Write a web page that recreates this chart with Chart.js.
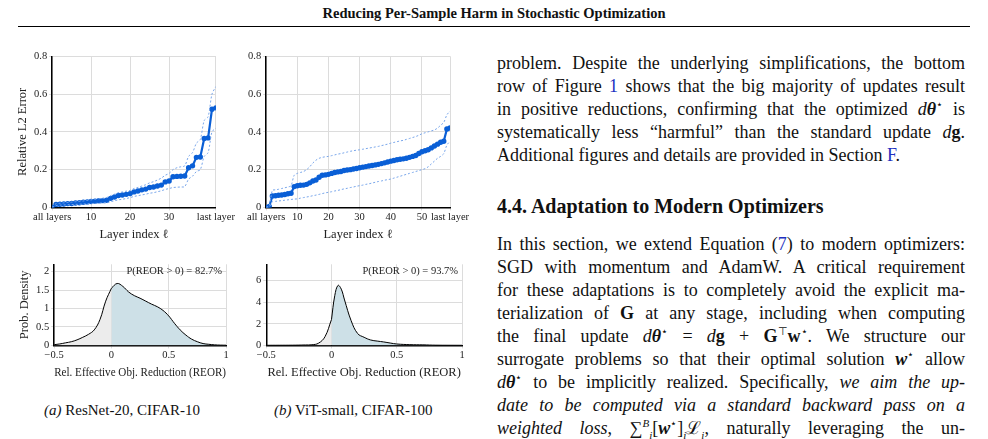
<!DOCTYPE html>
<html>
<head>
<meta charset="utf-8">
<script src="https://cdn.jsdelivr.net/npm/chart.js@4/dist/chart.umd.min.js"></script>
<style>
  body { margin: 0; width: 988px; height: 439px; background: #fff; font-family: "Liberation Serif", "DejaVu Serif", serif; color: #111; overflow: hidden; position: relative; }
  .title { position: absolute; left: 0; top: 5px; width: 988px; text-align: center; font-weight: bold; font-size: 14.5px; }
  .rule { position: absolute; left: 18px; top: 26px; width: 952px; border-top: 1px solid #000; }
  .box { position: absolute; }
  .cap { position: absolute; font-size: 15px; }
  .ln { position: absolute; left: 497px; width: 468px; height: 20px; line-height: 20px; font-family: "Liberation Serif", serif; font-size: 18px; text-align: justify; text-align-last: justify; white-space: nowrap; }
  .ln sup, .ln sub { font-size: 11px; line-height: 0; }
  .last { text-align-last: left; }
  .ref { color: #2030c0; }
</style>
</head>
<body>
<div class="title">Reducing Per-Sample Harm in Stochastic Optimization</div>
<div class="rule"></div>

<div class="box" style="left:0;top:48px;width:236px;height:196px"><canvas id="c1"></canvas></div>
<div class="box" style="left:246px;top:48px;width:234px;height:196px"><canvas id="c2"></canvas></div>
<div class="box" style="left:0;top:256px;width:240px;height:126px"><canvas id="c3"></canvas></div>
<div class="box" style="left:246px;top:256px;width:230px;height:126px"><canvas id="c4"></canvas></div>

<div class="cap" style="left:44px;top:402px"><i>(a)</i> ResNet-20, CIFAR-10</div>
<div class="cap" style="left:274px;top:402px"><i>(b)</i> ViT-small, CIFAR-100</div>

<div class="ln" style="top:53px">problem. Despite the underlying simplifications, the bottom</div>
<div class="ln" style="top:76px">row of Figure <span class="ref">1</span> shows that the big majority of updates result</div>
<div class="ln" style="top:99px">in positive reductions, confirming that the optimized <i>d</i><b><i>θ</i></b><sup>⋆</sup> is</div>
<div class="ln" style="top:122px">systematically less “harmful” than the standard update <i>d</i><b>g</b>.</div>
<div class="ln last" style="top:145px">Additional figures and details are provided in Section <span class="ref">F</span>.</div>
<div class="ln last" style="top:196px;font-weight:bold;font-size:20px">4.4. Adaptation to Modern Optimizers</div>
<div class="ln" style="top:234px">In this section, we extend Equation (<span class="ref">7</span>) to modern optimizers:</div>
<div class="ln" style="top:257px">SGD with momentum and AdamW. A critical requirement</div>
<div class="ln" style="top:280px">for these adaptations is to completely avoid the explicit ma-</div>
<div class="ln" style="top:303px">terialization of <b>G</b> at any stage, including when computing</div>
<div class="ln" style="top:326px">the final update <i>d</i><b><i>θ</i></b><sup>⋆</sup> = <i>d</i><b>g</b> + <b>G</b><sup>⊤</sup><b>w</b><sup>⋆</sup>. We structure our</div>
<div class="ln" style="top:349px">surrogate problems so that their optimal solution <b><i>w</i></b><sup>⋆</sup> allow</div>
<div class="ln" style="top:372px"><i>d</i><b><i>θ</i></b><sup>⋆</sup> to be implicitly realized. Specifically, <i>we aim the up-</i></div>
<div class="ln" style="top:395px"><i>date to be computed via a standard backward pass on a</i></div>
<div class="ln" style="top:418px"><i>weighted loss</i>, ∑<sup><i>B</i></sup><sub><i>i</i></sub>[<b><i>w</i></b><sup>⋆</sup>]<sub><i>i</i></sub>ℒ<sub><i>i</i></sub>, naturally leveraging the un-</div>

<script>
// ResNet-20: relative L2 error per layer index (0 = all layers, 42 = last layer)
const resMean = [0, 0.015, 0.017, 0.018, 0.02, 0.021, 0.023, 0.025, 0.027, 0.029, 0.031,
  0.033, 0.035, 0.036, 0.038, 0.048, 0.055, 0.063, 0.066, 0.069, 0.073, 0.082, 0.087,
  0.093, 0.097, 0.105, 0.108, 0.113, 0.118, 0.135, 0.14, 0.162, 0.164, 0.165, 0.166,
  0.21, 0.22, 0.265, 0.267, 0.365, 0.368, 0.52, 0.527];
const resUpper = [0, 0.02, 0.022, 0.024, 0.026, 0.028, 0.03, 0.032, 0.034, 0.037, 0.04,
  0.043, 0.046, 0.049, 0.052, 0.062, 0.07, 0.078, 0.082, 0.086, 0.09, 0.1, 0.106,
  0.113, 0.12, 0.13, 0.136, 0.145, 0.155, 0.17, 0.18, 0.2, 0.21, 0.215, 0.22,
  0.27, 0.29, 0.34, 0.36, 0.46, 0.48, 0.6, 0.64];
const resLower = [0, 0.01, 0.012, 0.013, 0.014, 0.015, 0.016, 0.017, 0.018, 0.019, 0.02,
  0.021, 0.022, 0.023, 0.024, 0.03, 0.035, 0.04, 0.043, 0.047, 0.052, 0.058, 0.062,
  0.066, 0.07, 0.075, 0.078, 0.083, 0.088, 0.095, 0.1, 0.105, 0.107, 0.108, 0.11,
  0.15, 0.165, 0.19, 0.2, 0.27, 0.29, 0.4, 0.42];

// ViT-small: relative L2 error per layer index (0 = all layers, 59 = last layer)
const vitMean = [0, 0.005, 0.06, 0.062, 0.064, 0.066, 0.068, 0.072, 0.075, 0.11,
  0.115, 0.117, 0.118, 0.122, 0.13, 0.14, 0.145, 0.16, 0.17, 0.172, 0.175, 0.18,
  0.185, 0.188, 0.19, 0.195, 0.198, 0.2, 0.203, 0.206, 0.21, 0.213, 0.216, 0.219,
  0.222, 0.225, 0.228, 0.232, 0.236, 0.24, 0.245, 0.248, 0.252, 0.255, 0.257, 0.26,
  0.265, 0.27, 0.275, 0.285, 0.295, 0.3, 0.305, 0.315, 0.325, 0.335, 0.345, 0.35,
  0.415, 0.42];
const vitUpper = [0, 0.01, 0.09, 0.093, 0.096, 0.1, 0.104, 0.108, 0.115, 0.17,
  0.18, 0.185, 0.19, 0.2, 0.215, 0.235, 0.25, 0.26, 0.265, 0.268, 0.27, 0.274,
  0.278, 0.282, 0.285, 0.289, 0.293, 0.297, 0.3, 0.303, 0.305, 0.308, 0.311, 0.314,
  0.317, 0.32, 0.323, 0.327, 0.331, 0.335, 0.34, 0.344, 0.348, 0.352, 0.355, 0.36,
  0.365, 0.37, 0.375, 0.382, 0.39, 0.395, 0.4, 0.405, 0.41, 0.42, 0.435, 0.45,
  0.49, 0.51];
const vitLower = [0, 0.002, 0.03, 0.032, 0.034, 0.036, 0.038, 0.04, 0.042, 0.044,
  0.045, 0.049, 0.052, 0.055, 0.058, 0.062, 0.065, 0.069, 0.073, 0.077, 0.08, 0.083,
  0.087, 0.09, 0.094, 0.098, 0.101, 0.105, 0.108, 0.112, 0.115, 0.118, 0.122, 0.125,
  0.129, 0.133, 0.137, 0.14, 0.144, 0.147, 0.15, 0.155, 0.16, 0.165, 0.17, 0.175,
  0.18, 0.185, 0.19, 0.195, 0.2, 0.205, 0.215, 0.23, 0.245, 0.26, 0.27, 0.285,
  0.33, 0.35];

// REOR densities
const resRx = [-0.5, -0.45, -0.4, -0.35, -0.3, -0.25, -0.2, -0.15, -0.1, -0.05, 0];
const resRy = [0.02, 0.04, 0.07, 0.1, 0.15, 0.22, 0.3, 0.42, 0.7, 1.2, 1.55];
const resPx = [0, 0.05, 0.1, 0.15, 0.2, 0.25, 0.3, 0.35, 0.4, 0.45, 0.5, 0.55, 0.6,
  0.65, 0.7, 0.75, 0.8, 0.85, 0.9, 0.95, 1];
const resPy = [1.55, 1.68, 1.6, 1.45, 1.35, 1.28, 1.2, 1.12, 1.05, 0.95, 0.8, 0.6, 0.42,
  0.28, 0.17, 0.1, 0.05, 0.03, 0.015, 0.008, 0.005];
const vitRx = [-0.5, -0.4, -0.3, -0.2, -0.15, -0.1, -0.05, 0];
const vitRy = [0.01, 0.015, 0.02, 0.04, 0.06, 0.2, 0.8, 2.4];
const vitPx = [0, 0.025, 0.05, 0.075, 0.1, 0.15, 0.2, 0.25, 0.3, 0.35, 0.4, 0.45, 0.5,
  0.6, 0.7, 0.8, 1];
const vitPy = [2.4, 4.6, 5.55, 5.2, 4.2, 2.3, 1.1, 0.75, 0.5, 0.4, 0.32, 0.22, 0.13,
  0.07, 0.05, 0.02, 0.01];

const SERIF = "'Liberation Serif', 'DejaVu Serif', serif";
const FONT = { family: SERIF, size: 10.5 };
const TFONT = { family: SERIF, size: 12.5 };
const GRID = "#dcdcdc";
const MEAN = "#0a5fd6";
const BAND = "#79a6ea";

function pts(arr) { return arr.map((y, i) => ({ x: i, y })); }
function zip(xs, ys) { return xs.map((x, i) => ({ x, y: ys[i] })); }
const num = v => String(+(+v).toFixed(2)).replace("-", "−");

function errorChart(id, mean, upper, lower, last, showY, ticks, padLeft, padRight) {
  const band = d => ({ data: pts(d), borderColor: BAND, borderWidth: 1, borderDash: [2, 2], pointRadius: 0, tension: 0.3 });
  new Chart(document.getElementById(id), {
    type: "line",
    data: { datasets: [band(upper), band(lower),
      { data: pts(mean), borderColor: MEAN, backgroundColor: MEAN, borderWidth: 2.2, pointRadius: 1.6, tension: 0 }] },
    options: {
      animation: false, responsive: true, maintainAspectRatio: false,
      layout: { padding: { left: padLeft, right: padRight, top: 4 } },
      plugins: { legend: { display: false }, tooltip: { enabled: false } },
      scales: {
        x: { type: "linear", min: 0, max: last,
          afterBuildTicks: ax => { ax.ticks = ticks.map(v => ({ value: v })); },
          ticks: { font: FONT, color: "#222", maxRotation: 0, autoSkip: false, padding: 1,
            callback: v => v === 0 ? "all layers" : v === last ? "last layer" : v },
          grid: { color: GRID, tickLength: 3 },
          border: { color: "#000", width: 1.5 },
          title: { display: true, text: "Layer index ℓ", font: TFONT, color: "#222", padding: 2 } },
        y: { min: 0, max: 0.8,
          ticks: { font: FONT, color: "#222", stepSize: 0.2, padding: 2, callback: v => v === 0 ? "0" : v.toFixed(1) },
          grid: { color: GRID, tickLength: 3 },
          border: { color: "#000", width: 1.5 },
          title: { display: showY, text: "Relative L2 Error", font: TFONT, color: "#222", padding: 2 } }
      }
    }
  });
}

function densityChart(id, rx, ry, px, py, ymax, step, label, showY, padLeft) {
  const annot = {
    id: "annot",
    afterDraw(c) {
      const ctx = c.ctx, a = c.chartArea;
      ctx.save();
      ctx.font = "10.5px " + SERIF;
      ctx.fillStyle = "#222";
      ctx.textAlign = "right";
      ctx.fillText(label, a.right - 4, a.top + 10);
      ctx.restore();
    }
  };
  new Chart(document.getElementById(id), {
    type: "line",
    data: { datasets: [
      { data: zip(rx, ry), borderColor: "#000", borderWidth: 1, backgroundColor: "#ececec", fill: "origin", pointRadius: 0, tension: 0.4 },
      { data: zip(px, py), borderColor: "#000", borderWidth: 1, backgroundColor: "#cde0e7", fill: "origin", pointRadius: 0, tension: 0.4 }] },
    options: {
      animation: false, responsive: true, maintainAspectRatio: false,
      layout: { padding: { left: padLeft, right: 14, top: 4 } },
      plugins: { legend: { display: false }, tooltip: { enabled: false } },
      scales: {
        x: { type: "linear", min: -0.5, max: 1,
          afterBuildTicks: ax => { ax.ticks = [-0.5, 0, 0.5, 1].map(v => ({ value: v })); },
          ticks: { font: FONT, color: "#222", maxRotation: 0, padding: 1, callback: num },
          grid: { color: GRID, tickLength: 3 },
          border: { color: "#000", width: 1.5 },
          title: { display: true, text: "Rel. Effective Obj. Reduction (REOR)", font: TFONT, color: "#222", padding: 2 } },
        y: { min: 0, max: ymax,
          afterBuildTicks: ax => { const t = []; for (let v = 0; v <= ymax; v += step) t.push({ value: v }); ax.ticks = t; },
          ticks: { font: FONT, color: "#222", padding: 2, callback: num },
          grid: { color: GRID, tickLength: 3 },
          border: { color: "#000", width: 1.5 },
          title: { display: showY, text: "Prob. Density", font: TFONT, color: "#222", padding: 2 } }
      }
    },
    plugins: [annot]
  });
}

errorChart("c1", resMean, resUpper, resLower, 42, true, [0, 10, 20, 30, 42], 13, 20);
errorChart("c2", vitMean, vitUpper, vitLower, 59, false, [0, 10, 20, 30, 40, 50, 59], 0, 30);
densityChart("c3", resRx, resRy, resPx, resPy, 2.2, 0.5, "P(REOR > 0) = 82.7%", true, 15);
densityChart("c4", vitRx, vitRy, vitPx, vitPy, 7.5, 2, "P(REOR > 0) = 93.7%", false, 8);
</script>
</body>
</html>
